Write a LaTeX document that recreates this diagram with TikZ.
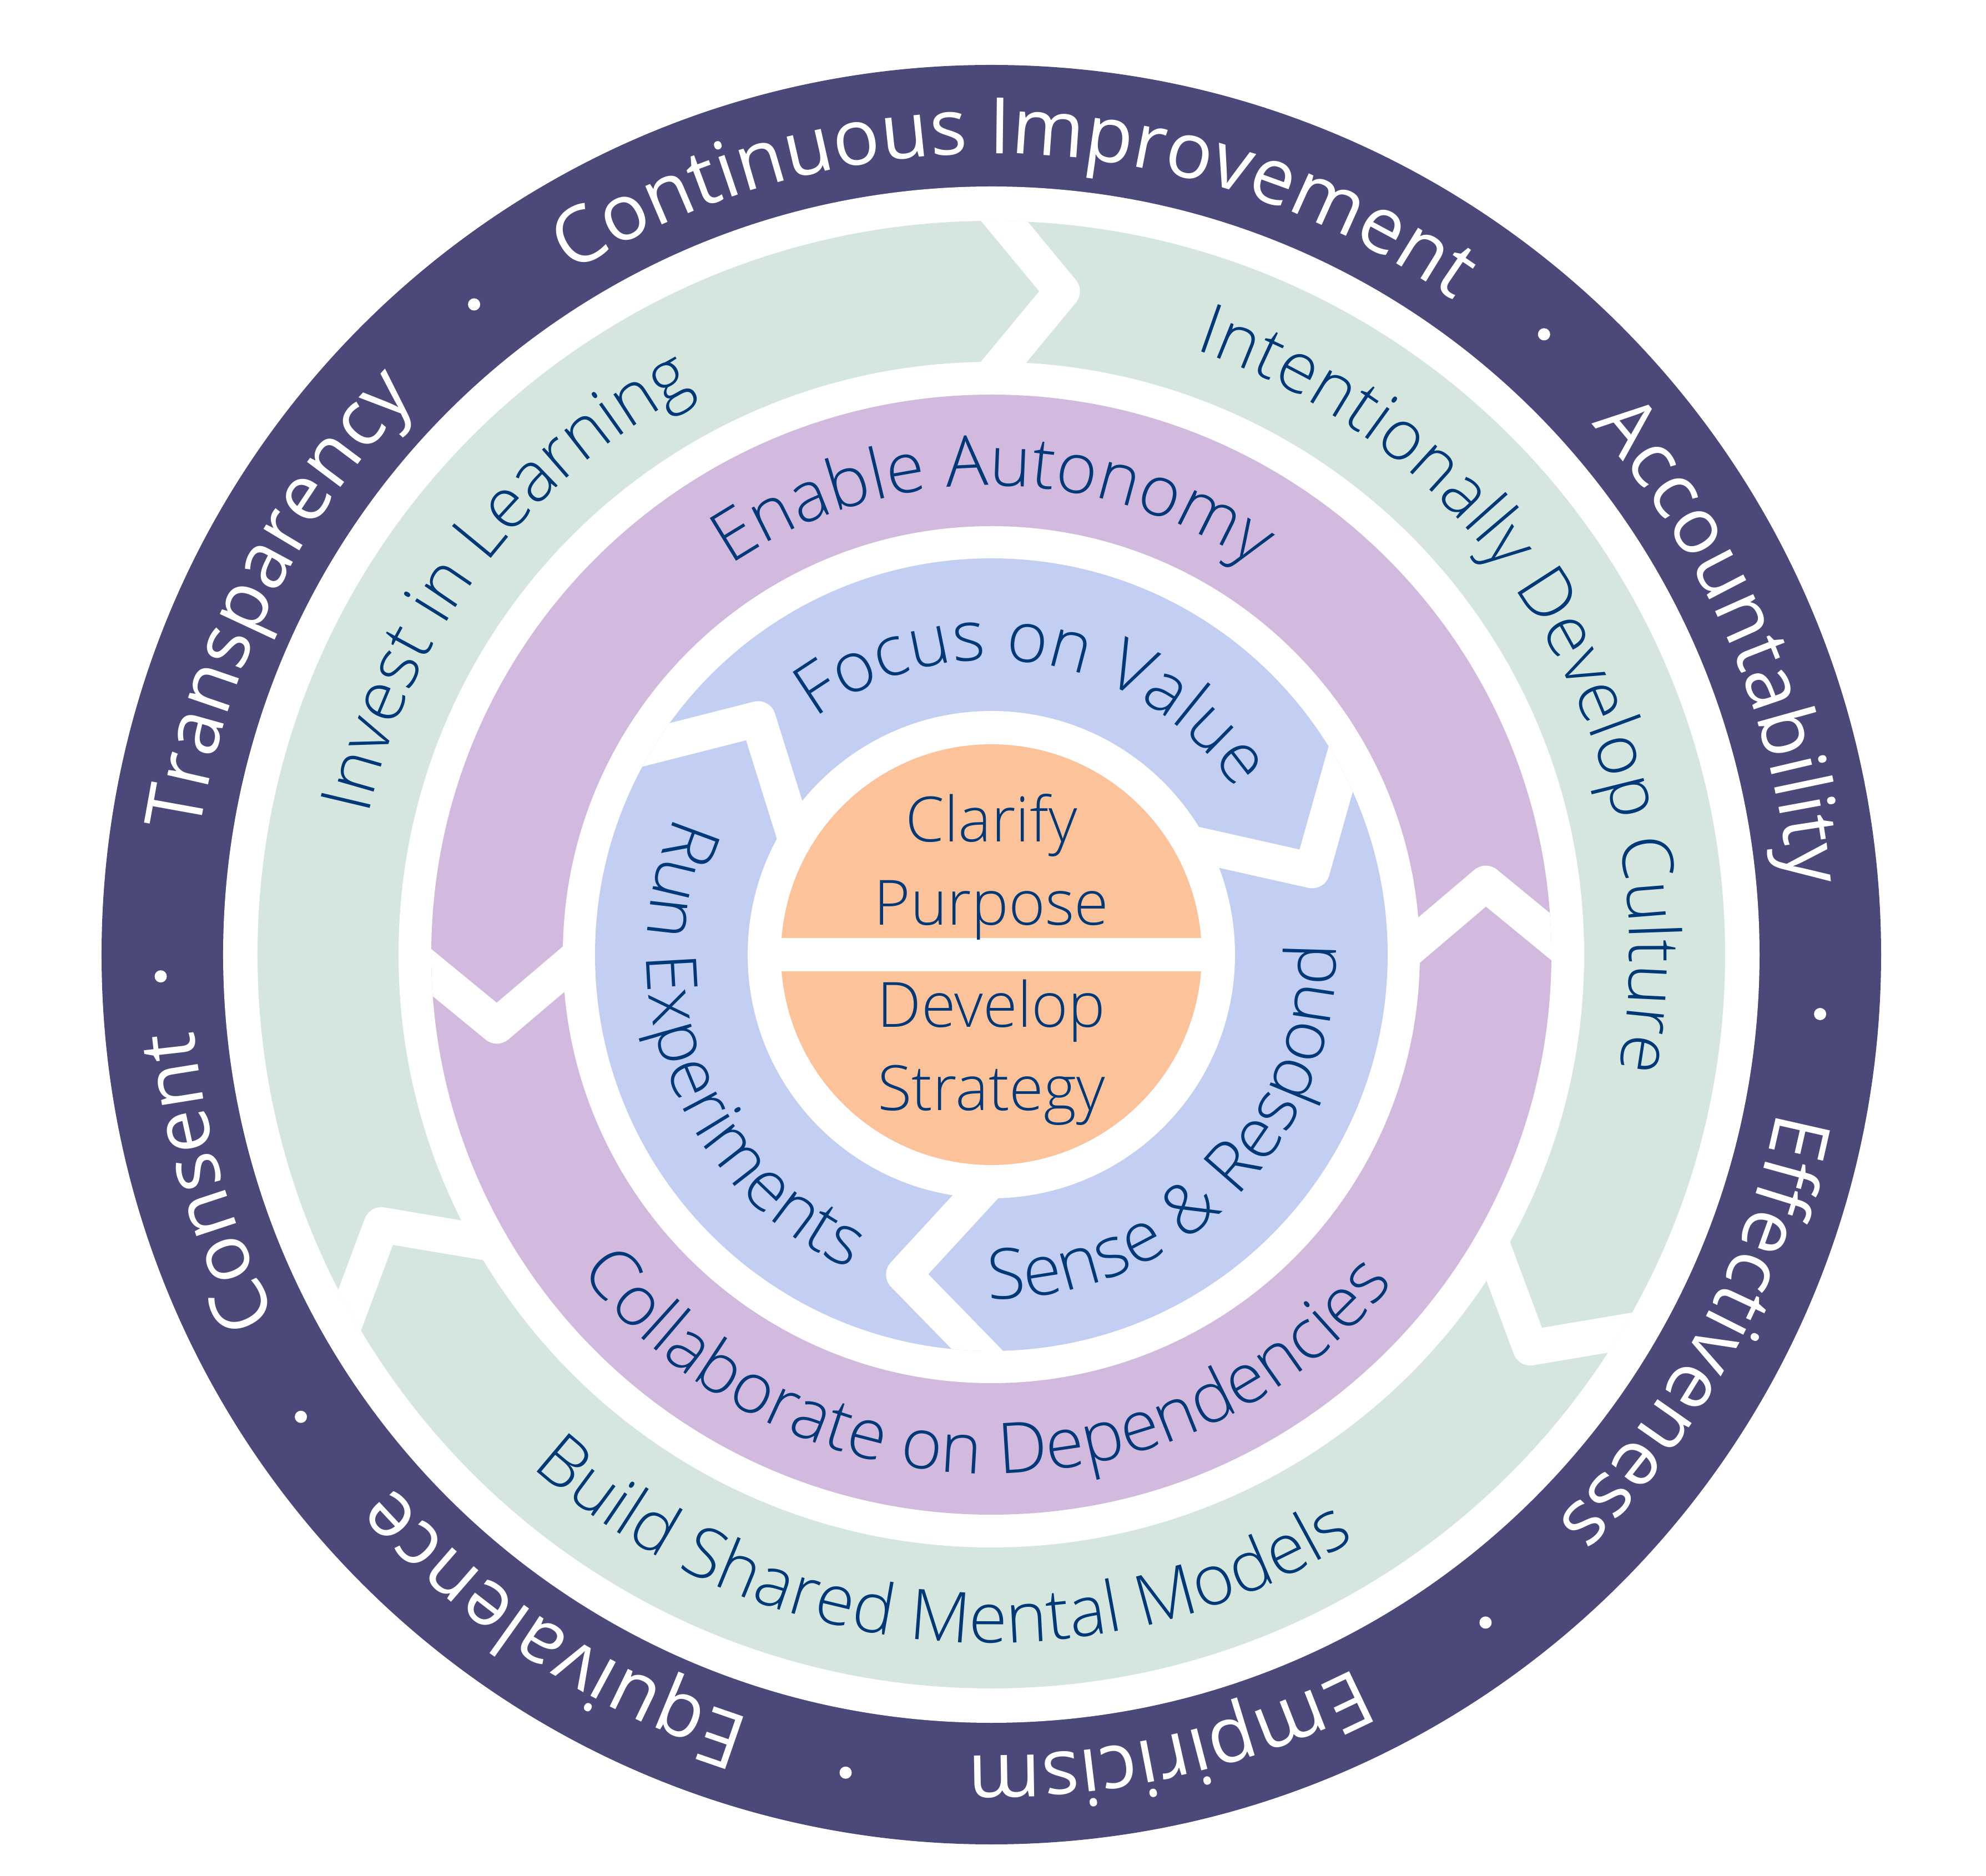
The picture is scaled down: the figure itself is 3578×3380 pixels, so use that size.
\documentclass[tikz,border=0pt]{standalone}
\usepackage{fontspec}
\setmainfont{Open Sans}
\newfontfamily\lightfamily{Open Sans Light}
\usetikzlibrary{decorations.text,calc}
\definecolor{ringdark}{HTML}{4A497A}
\definecolor{ringgreen}{HTML}{D5E6DF}
\definecolor{ringpurple}{HTML}{D1BADE}
\definecolor{ringblue}{HTML}{C2CEF2}
\definecolor{coreorange}{HTML}{FCC39B}
\definecolor{navytext}{HTML}{003878}
\newcommand{\outerringfont}{\fontsize{40pt}{48pt}\selectfont\color{white}}
\newcommand{\innerringfont}{\lightfamily\fontsize{36pt}{43pt}\selectfont\color{navytext}}
\newcommand{\corefont}{\lightfamily\fontsize{32pt}{38pt}\selectfont}
% clockwise label (tops outward): #1 centre angle, #2 baseline radius, #3 format, #4 text
\newcommand{\cwlabel}[4]{%
  \pgfmathsetmacro{\labstart}{#1+85}\pgfmathsetmacro{\labend}{#1-85}%
  \path[decorate,decoration={text along path,text align=center,text={|#3|#4}}]
    (\labstart:#2) arc[start angle=\labstart,end angle=\labend,radius=#2];}
% counter-clockwise label (tops inward)
\newcommand{\ccwlabel}[4]{%
  \pgfmathsetmacro{\labstart}{#1-85}\pgfmathsetmacro{\labend}{#1+85}%
  \path[decorate,decoration={text along path,text align=center,text={|#3|#4}}]
    (\labstart:#2) arc[start angle=\labstart,end angle=\labend,radius=#2];}
\tikzset{
  chevron/.style={draw=white,line width=6.4mm,line join=round,line cap=butt},
  coretext/.style={font=\corefont,text=navytext,inner sep=0pt,text height=22.8pt,text depth=0pt}
}
\begin{document}
\begin{tikzpicture}[x=0.1mm,y=0.1mm]
\useasboundingbox (-1786,-1660) rectangle (1792,1720);
\fill[white] (-1786,-1660) rectangle (1792,1720);
% outer dark ring
\fill[ringdark] (0,0) circle[radius=1603];
\fill[white] (0,0) circle[radius=1384];
% green ring (clockwise arrows)
\fill[ringgreen] (0,0) circle[radius=1322];
\begin{scope}
  \clip (0,0) circle[radius=1322];
  \foreach \a in {83.9,-36.1,203.9}{
    \draw[chevron] ($(\a:1202)!1.7!(\a+5.1:1322)$) -- (\a:1202) -- ($(\a:1202)!1.7!(\a+4.9:1068)$);
  }
\end{scope}
\fill[white] (0,0) circle[radius=1068];
% purple ring (counter-clockwise arrows)
\fill[ringpurple] (0,0) circle[radius=1009];
\begin{scope}
  \clip (0,0) circle[radius=1009];
  \foreach \a in {8.2,188.2}{
    \draw[chevron] ($(\a:900)!1.7!(\a-6.4:1009)$) -- (\a:900) -- ($(\a:900)!1.7!(\a-6.2:772)$);
  }
\end{scope}
\fill[white] (0,0) circle[radius=772];
% blue ring (clockwise arrows)
\fill[ringblue] (0,0) circle[radius=714];
\begin{scope}
  \clip (0,0) circle[radius=714];
  \foreach \a in {14.7,134.7,254.7}{
    \draw[chevron] ($(\a:597.5)!1.7!(\a+13.05:710)$) -- (\a:597.5) -- ($(\a:597.5)!1.7!(\a+11.3:439.5)$);
  }
\end{scope}
\fill[white] (0,0) circle[radius=439];
% core
\fill[coreorange] (0,0) circle[radius=379];
\fill[white] (-400,-30) rectangle (400,30);
\node[coretext] (clarify) at (0,244) {Clarify};
\node[coretext] (purpose) at (0,94) {Purpose};
\node[coretext] (develop) at (0,-90) {Develop};
\node[coretext] (strategy) at (0,-240) {Strategy};
% dark ring labels
\cwlabel{88.2}{1443}{\outerringfont}{Continuous Improvement}
\cwlabel{23.2}{1443}{\outerringfont}{Accountability}
\cwlabel{-28.2}{1443}{\outerringfont}{Effectiveness}
\cwlabel{-77.3}{1443}{\outerringfont}{Empiricism}
\cwlabel{237}{1443}{\outerringfont}{Equivalence}
\cwlabel{196.2}{1443}{\outerringfont}{Consent}
\cwlabel{153.6}{1443}{\outerringfont}{Transparency}
\foreach \d in {128.5,48.3,-4.1,-53.5,-100.1,213.8,181.5}{
  \fill[white] (\d:1497) circle[radius=11];
}
% green ring labels
\cwlabel{30.5}{1150}{\innerringfont}{Intentionally Develop Culture}
\cwlabel{142.5}{1150}{\innerringfont}{Invest in Learning}
\ccwlabel{265}{1240}{\innerringfont}{Build Shared Mental Models}
% purple ring labels
\cwlabel{89.8}{845}{\innerringfont}{Enable Autonomy}
\ccwlabel{269.2}{935}{\innerringfont}{Collaborate on Dependencies}
% blue ring labels
\cwlabel{80.4}{531}{\innerringfont}{Focus on Value}
\ccwlabel{-44.4}{621}{\innerringfont}{Sense {\&} Respond}
\ccwlabel{201}{621}{\innerringfont}{Run Experiments}
\end{tikzpicture}
\end{document}
